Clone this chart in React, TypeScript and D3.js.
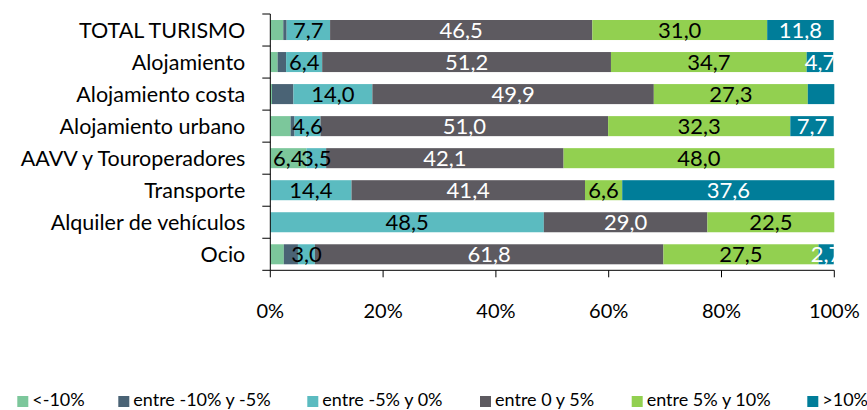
import React from "react";
import * as d3 from "d3";

const categories = [
  "TOTAL TURISMO",
  "Alojamiento",
  "Alojamiento costa",
  "Alojamiento urbano",
  "AAVV y Touroperadores",
  "Transporte",
  "Alquiler de vehículos",
  "Ocio",
];

const seriesNames = [
  "<-10%",
  "entre -10% y -5%",
  "entre -5% y 0%",
  "entre 0 y 5%",
  "entre 5% y 10%",
  ">10%",
];

const lessThanMinus10 = [2.3, 1.3, 0.3, 3.6, 6.4, 0, 0, 2.4];
const minus10ToMinus5 = [0.6, 1.5, 3.8, 0.7, 0, 0, 0, 2.5];
const minus5To0 = [7.7, 6.4, 14.0, 4.6, 3.5, 14.4, 48.5, 3.0];
const zeroTo5 = [46.5, 51.2, 49.9, 51.0, 42.1, 41.4, 29.0, 61.8];
const fiveTo10 = [31.0, 34.7, 27.3, 32.3, 48.0, 6.6, 22.5, 27.5];
const moreThan10 = [11.8, 4.7, 4.7, 7.7, 0, 37.6, 0, 2.7];

const xTicks = [0, 20, 40, 60, 80, 100];

// labels that are not shown in the original: [category, series index]
const hiddenLabels: [string, number][] = [["Alojamiento costa", 5]];

const seriesValues = [
  lessThanMinus10,
  minus10ToMinus5,
  minus5To0,
  zeroTo5,
  fiveTo10,
  moreThan10,
];

const colors = ["#7CC79B", "#4A6375", "#5BBBC0", "#5D5A60", "#92D050", "#007D99"];
const labelColors = ["#000", "#fff", "#000", "#fff", "#000", "#fff"];

const FONT = "Lato, 'Open Sans', sans-serif";

export default function App() {
  const W = 867;
  const H = 410;
  const margin = { left: 270.3, right: 867 - 834.3, top: 14, bottom: 410 - 270.3 };

  const x = d3.scaleLinear().domain([0, 100]).range([margin.left, W - margin.right]);
  const y = d3
    .scaleBand<string>()
    .domain(categories)
    .range([margin.top, H - margin.bottom])
    .paddingInner(0.375)
    .paddingOuter(0.1875);

  const rows = categories.map((c, i) => {
    const obj: any = { category: c };
    seriesNames.forEach((s, j) => (obj[s] = seriesValues[j][i]));
    return obj;
  });
  const stacked = d3.stack<any>().keys(seriesNames)(rows);

  const step = y.step();
  const boundaries = d3.range(categories.length + 1).map((i) => margin.top + i * step);

  const legendX = [17.3, 118.3, 307.3, 480, 631.7, 807.3];

  const isHidden = (cat: string, si: number, v: number) => {
    if (v <= 0) return true;
    if (si === 1) return true;
    if (si === 0 && v < 5) return true;
    return hiddenLabels.some(([c, s]) => c === cat && s === si);
  };

  return (
    <svg
      width={W}
      height={H}
      style={{ position: "absolute", left: 0, top: 0, background: "#fff" }}
      fontFamily={FONT}
    >
      <defs>
        <clipPath id="plotClip">
          <rect x={x(0)} y={0} width={x(100) - x(0)} height={H - margin.bottom} />
        </clipPath>
      </defs>
      {stacked.map((layer, si) => (
        <g key={si} fill={colors[si]}>
          {layer.map((d, ci) =>
            d[1] - d[0] > 0 ? (
              <rect
                key={ci}
                x={x(d[0])}
                y={y(categories[ci])}
                width={x(d[1]) - x(d[0])}
                height={y.bandwidth()}
              />
            ) : null
          )}
        </g>
      ))}
      <g clipPath="url(#plotClip)">
        {stacked.map((layer, si) =>
          layer.map((d, ci) => {
            const cat = categories[ci];
            if (isHidden(cat, si, seriesValues[si][ci])) return null;
            return (
              <text
                key={`${si}-${ci}`}
                x={x((d[0] + d[1]) / 2)}
                y={(y(cat) as number) + y.bandwidth() / 2}
                dy="0.36em"
                textAnchor="middle"
                fontSize={22}
                fill={labelColors[si]}
              >
                {d3.format(".1f")(seriesValues[si][ci]).replace(".", ",")}
              </text>
            );
          })
        )}
      </g>
      {/* y axis */}
      <line x1={x(0)} x2={x(0)} y1={margin.top} y2={H - margin.bottom} stroke="#000" strokeWidth={1} />
      {boundaries.map((b, i) => (
        <line key={i} x1={x(0) - 8} x2={x(0)} y1={b} y2={b} stroke="#000" strokeWidth={1} />
      ))}
      {categories.map((c) => (
        <text
          key={c}
          x={x(0) - 25}
          y={(y(c) as number) + y.bandwidth() / 2}
          dy="0.36em"
          textAnchor="end"
          fontSize={21.5}
          fill="#000"
        >
          {c}
        </text>
      ))}
      {/* x axis */}
      <line x1={x(0)} x2={x(100)} y1={H - margin.bottom} y2={H - margin.bottom} stroke="#000" strokeWidth={1} />
      {xTicks.map((t) => (
        <g key={t}>
          <line x1={x(t)} x2={x(t)} y1={H - margin.bottom} y2={H - margin.bottom + 7} stroke="#000" />
          <text x={x(t)} y={318} textAnchor="middle" fontSize={20} fill="#000">
            {t}%
          </text>
        </g>
      ))}
      {/* legend */}
      {seriesNames.map((s, i) => (
        <g key={s} transform={`translate(${legendX[i]},0)`}>
          <rect x={0} y={396} width={11} height={11} fill={colors[i]} />
          <text x={15} y={406} fontSize={18} fill="#000">
            {s}
          </text>
        </g>
      ))}
    </svg>
  );
}
